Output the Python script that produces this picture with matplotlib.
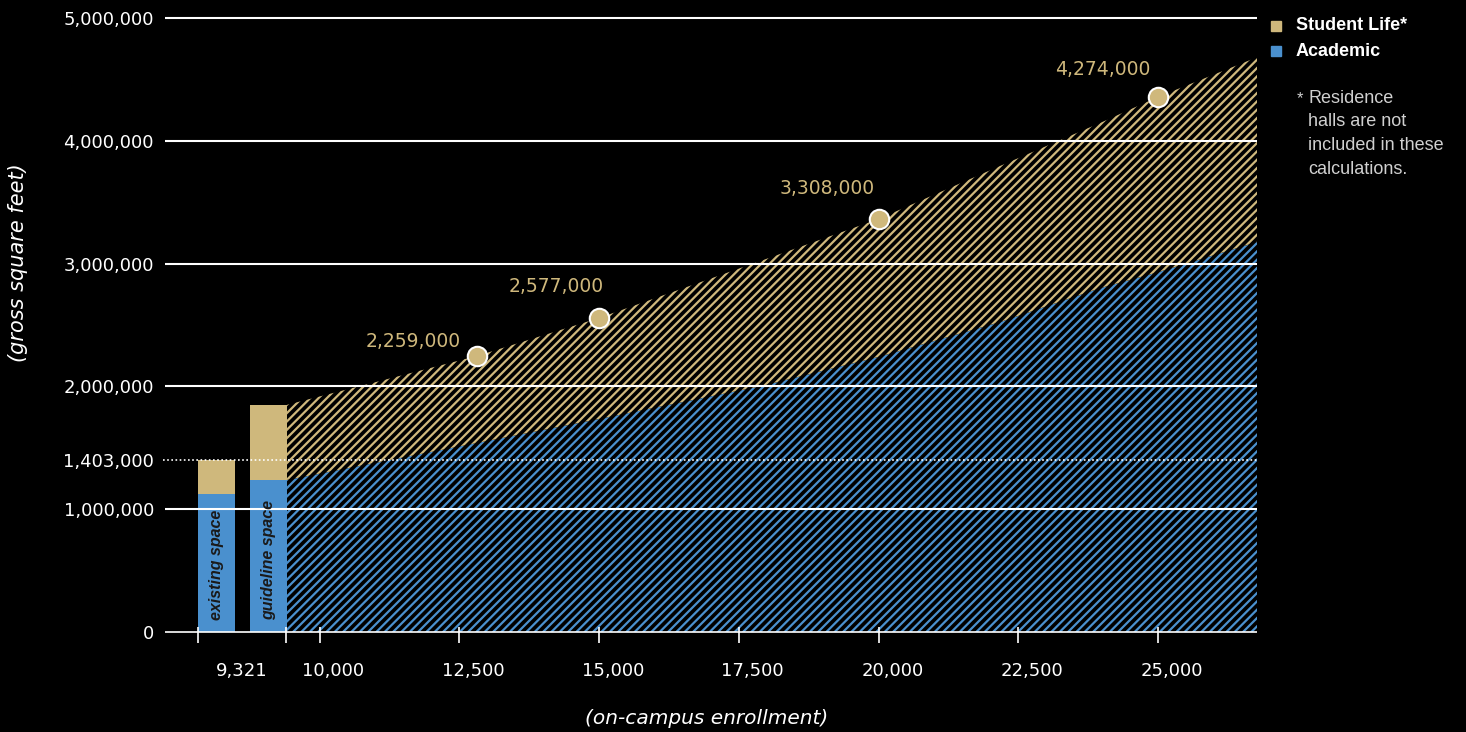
import numpy as np
import matplotlib.pyplot as plt
from matplotlib.patches import Rectangle
from matplotlib.transforms import ScaledTranslation

# data (enrollment vs gross square feet)
enroll = [9419, 11082, 12818, 15000, 17880, 20000, 22174, 23963, 25000, 26771]
total_gsf = [1.850e6, 2.044e6, 2.248e6, 2.557e6, 3.020e6, 3.363e6, 3.795e6, 4.145e6, 4.357e6, 4.680e6]
academic_gsf = [1.238e6, 1.385e6, 1.539e6, 1.735e6, 2.000e6, 2.240e6, 2.524e6, 2.800e6, 2.930e6, 3.176e6]

bar_names = ["existing space", "guideline space"]
bar_academic = [1.124e6, 1.238e6]
bar_total = [1.403e6, 1.850e6]

dot_idx = [2, 3, 5, 8]
dot_labels = ["2,259,000", "2,577,000", "3,308,000", "4,274,000"]

xtick_vals = [10000, 12500, 15000, 17500, 20000, 22500, 25000]
xtick_labels = ["10,000", "12,500", "15,000", "17,500", "20,000", "22,500", "25,000"]
ytick_vals = [0, 1e6, 1.403e6, 2e6, 3e6, 4e6, 5e6]
ytick_labels = ["0", "1,000,000", "1,403,000", "2,000,000", "3,000,000", "4,000,000", "5,000,000"]

TAN = "#CFB87C"
BLUE = "#4A90CE"
W, H = 1466, 732

plt.rcParams["hatch.linewidth"] = 1.6

fig = plt.figure(figsize=(W / 100, H / 100), dpi=100, facecolor="black")
ax = fig.add_axes([165 / W, (H - 650) / H, 1092 / W, 640 / H])
ax.set_facecolor("black")
ax.set_xlim(7236, 26771)
ax.set_ylim(-0.1466e6, 5.065e6)
for s in ax.spines.values():
    s.set_visible(False)

# hatched areas
ax.fill_between(enroll, 0, academic_gsf, facecolor="black", edgecolor=BLUE,
                hatch="////", linewidth=0, zorder=1)
ax.fill_between(enroll, academic_gsf, total_gsf, facecolor="black", edgecolor=TAN,
                hatch="////", linewidth=0, zorder=1)

# bars for existing / guideline space
bar_x = [8157, 9088]
bar_w = 662
ax.bar(bar_x, bar_academic, width=bar_w, color=BLUE, zorder=2)
ax.bar(bar_x, np.array(bar_total) - np.array(bar_academic), bottom=bar_academic,
       width=bar_w, color=TAN, zorder=2)
for x, name in zip(bar_x, bar_names):
    ax.text(x, 0.098e6, name, rotation=90, ha="center", va="bottom",
            fontsize=11.5, family="Liberation Sans", weight="bold", style="italic",
            color="#1a1a1a", zorder=5)

# grid lines
xl = ax.get_xlim()
ax.hlines([1e6, 2e6, 3e6, 4e6, 5e6], xl[0], xl[1], color="white", lw=1.5, zorder=3)
ax.hlines(0, xl[0], xl[1], color="white", lw=1.2, zorder=3)
ax.plot([7200, xl[1]], [1.403e6, 1.403e6], ls=(0, (1, 1.5)), color="white", lw=1.2,
        zorder=3, clip_on=False)

# x tick marks
tick_marks = [7826, 9400] + xtick_vals
ax.vlines(tick_marks, -0.0896e6, 0.0407e6, color="white", lw=1.2, zorder=3)

# dots + labels
dx = [-64, -43, -51, -55]
dy = [14, 31, 31, 27]
for i, lab, ox, oy in zip(dot_idx, dot_labels, dx, dy):
    ax.plot(enroll[i], total_gsf[i], "o", ms=14, mfc=TAN, mec="white", mew=1.5, zorder=6)
    ax.annotate(lab, (enroll[i], total_gsf[i]), xytext=(ox, oy), textcoords="offset pixels",
                ha="center", va="center", color=TAN, fontsize=13.5, zorder=6)

# ticks
ax.set_yticks(ytick_vals, ytick_labels)
ax.set_xticks([8605] + xtick_vals, ["9,321"] + xtick_labels)
ax.tick_params(axis="y", length=0, pad=8, labelsize=13, labelcolor="white")
ax.tick_params(axis="x", length=0, pad=9, labelsize=13, labelcolor="white")
for lab in ax.get_xticklabels()[1:]:
    lab.set_transform(lab.get_transform() + ScaledTranslation(0.14, 0, fig.dpi_scale_trans))

fig.text(18 / W, 1 - 263 / H, "(gross square feet)", rotation=90, ha="center", va="center",
         color="white", fontsize=15, style="italic")
fig.text(707 / W, 1 - 718 / H, "(on-campus enrollment)", ha="center", va="center",
         color="white", fontsize=14.5, style="italic")

# legend
for y0, c, lab in [(21, TAN, "Student Life*"), (46, BLUE, "Academic")]:
    fig.add_artist(Rectangle((1271 / W, 1 - (y0 + 10) / H), 10 / W, 10 / H,
                             transform=fig.transFigure, color=c))
    fig.text(1296 / W, 1 - (y0 + 5) / H, lab, ha="left", va="center", color="white",
             fontsize=13, family="Liberation Sans", weight="bold")

fig.text(1297 / W, 1 - 99 / H, "*", ha="left", va="center", color="#d0d0d0",
         fontsize=12, family="Liberation Sans")
fig.text(1308 / W, 1 - 90 / H, "Residence\nhalls are not\nincluded in these\ncalculations.",
         ha="left", va="top", color="#d0d0d0", fontsize=13, family="Liberation Sans",
         linespacing=1.5)

fig.savefig("out.png", dpi=100, facecolor="black")
